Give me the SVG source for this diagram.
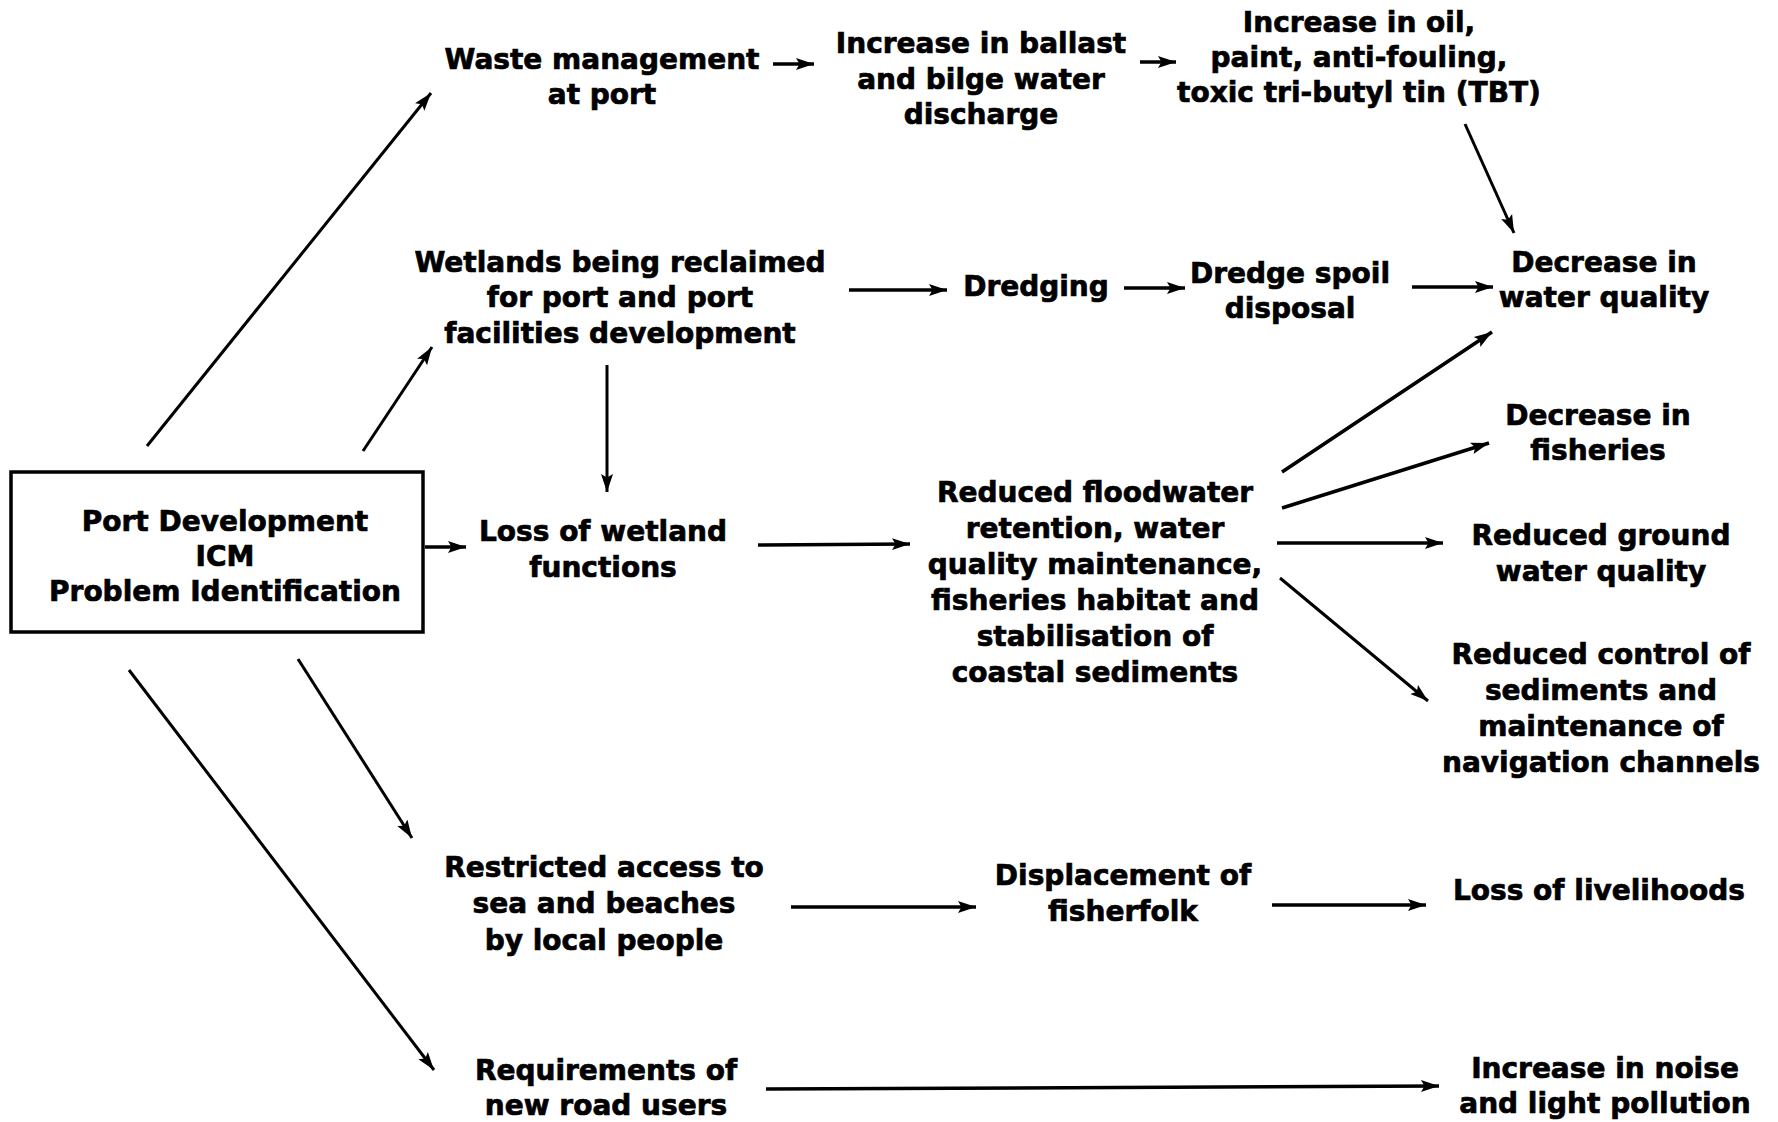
<svg xmlns="http://www.w3.org/2000/svg" width="1778" height="1122" viewBox="0 0 1778 1122">
<defs>
<marker id="ah" markerUnits="userSpaceOnUse" markerWidth="20" markerHeight="14" refX="18" refY="7" orient="auto">
<path d="M0,1 L18,7 L0,13 L3.5,7 z" fill="#000"/>
</marker>
<style>
text{font-family:"DejaVu Sans","Liberation Sans",sans-serif;font-weight:bold;font-size:28px;fill:#000;stroke:#000;stroke-width:0.7;text-anchor:middle}
.c{fill:none;stroke:#000;stroke-width:3.5;marker-end:url(#ah)}
.t{stroke-width:3}
</style>
</defs>
<rect width="1778" height="1122" fill="#fff"/>
<g id="n-port">
<rect x="11" y="472" width="412" height="160" fill="none" stroke="#000" stroke-width="3.5"/>
<text x="225" y="531">Port Development</text>
<text x="225" y="566">ICM</text>
<text x="225" y="601">Problem Identification</text>
</g>
<g id="n-waste"><text x="602" y="69">Waste management</text><text x="602" y="104">at port</text></g>
<g id="n-ballast"><text x="981" y="53">Increase in ballast</text><text x="981" y="89">and bilge water</text><text x="981" y="124">discharge</text></g>
<g id="n-oil"><text x="1359" y="32">Increase in oil,</text><text x="1359" y="67">paint, anti-fouling,</text><text x="1359" y="102">toxic tri-butyl tin (TBT)</text></g>
<g id="n-wetlands"><text x="620" y="272">Wetlands being reclaimed</text><text x="620" y="307">for port and port</text><text x="620" y="343">facilities development</text></g>
<g id="n-dredging"><text x="1036" y="296">Dredging</text></g>
<g id="n-spoil"><text x="1290" y="283">Dredge spoil</text><text x="1290" y="318">disposal</text></g>
<g id="n-wq"><text x="1604" y="272">Decrease in</text><text x="1604" y="307">water quality</text></g>
<g id="n-fish"><text x="1598" y="425">Decrease in</text><text x="1598" y="460">fisheries</text></g>
<g id="n-loss"><text x="603" y="541">Loss of wetland</text><text x="603" y="577">functions</text></g>
<g id="n-reduced"><text x="1095" y="502">Reduced floodwater</text><text x="1095" y="538">retention, water</text><text x="1095" y="574">quality maintenance,</text><text x="1095" y="610">fisheries habitat and</text><text x="1095" y="646">stabilisation of</text><text x="1095" y="682">coastal sediments</text></g>
<g id="n-ground"><text x="1601" y="545">Reduced ground</text><text x="1601" y="581">water quality</text></g>
<g id="n-control"><text x="1601" y="664">Reduced control of</text><text x="1601" y="700">sediments and</text><text x="1601" y="736">maintenance of</text><text x="1601" y="772">navigation channels</text></g>
<g id="n-restricted"><text x="604" y="877">Restricted access to</text><text x="604" y="913">sea and beaches</text><text x="604" y="950">by local people</text></g>
<g id="n-displace"><text x="1123" y="885">Displacement of</text><text x="1123" y="921">fisherfolk</text></g>
<g id="n-livelihood"><text x="1599" y="900">Loss of livelihoods</text></g>
<g id="n-road"><text x="606" y="1080">Requirements of</text><text x="606" y="1115">new road users</text></g>
<g id="n-noise"><text x="1605" y="1078">Increase in noise</text><text x="1605" y="1113">and light pollution</text></g>
<g id="connectors">
<line class="c t" x1="147" y1="446" x2="431" y2="93"/>
<line class="c t" x1="363" y1="451" x2="432" y2="347"/>
<line class="c" x1="773" y1="64" x2="814" y2="64"/>
<line class="c" x1="1140" y1="62" x2="1176" y2="62"/>
<line class="c t" x1="1465" y1="124" x2="1514" y2="233"/>
<line class="c" x1="849" y1="290" x2="947" y2="290"/>
<line class="c" x1="1124" y1="288" x2="1185" y2="288"/>
<line class="c" x1="1412" y1="287" x2="1493" y2="287"/>
<line class="c t" x1="607" y1="365" x2="607" y2="492"/>
<line class="c" x1="425" y1="547" x2="466" y2="547"/>
<line class="c" x1="758" y1="545" x2="910" y2="544"/>
<line class="c" x1="1282" y1="472" x2="1492" y2="332"/>
<line class="c" x1="1282" y1="508" x2="1489" y2="443"/>
<line class="c" x1="1277" y1="543" x2="1443" y2="543"/>
<line class="c t" x1="1280" y1="578" x2="1428" y2="701"/>
<line class="c t" x1="298" y1="659" x2="412" y2="838"/>
<line class="c t" x1="129" y1="670" x2="434" y2="1070"/>
<line class="c" x1="791" y1="907" x2="976" y2="907"/>
<line class="c" x1="1272" y1="905" x2="1426" y2="905"/>
<line class="c" x1="766" y1="1089" x2="1439" y2="1086"/>
</g>
</svg>
